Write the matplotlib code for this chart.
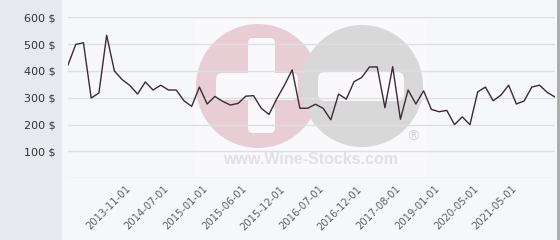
import matplotlib.pyplot as plt
import matplotlib.transforms as mtransforms
from matplotlib.patches import Circle, Rectangle, FancyBboxPatch

# price per point (categorical x axis)
prices = [422, 499, 505, 299, 318, 533, 400, 368, 346, 314,
          359, 329, 347, 329, 329, 289, 268, 340, 277, 305,
          287, 273, 279, 306, 308, 261, 238, 296, 347, 404,
          261, 261, 276, 261, 218, 314, 295, 360, 376, 415,
          415, 263, 416, 220, 329, 277, 326, 257, 248, 253,
          200, 229, 200, 322, 340, 289, 310, 347, 277, 288,
          340, 347, 320, 303]
tick_pos = [7, 12, 17, 22, 27, 32, 37, 42, 47, 52, 57]
tick_labels = ['2013-11-01', '2014-07-01', '2015-01-01', '2015-06-01',
               '2015-12-01', '2016-07-01', '2016-12-01', '2017-08-01',
               '2019-01-01', '2020-05-01', '2021-05-01']
y_ticks = [0, 100, 200, 300, 400, 500, 600]

fig = plt.figure(figsize=(5.6, 2.4), dpi=100, facecolor='#f6f7fa')

# background layer in pixel coordinates (sidebar + watermark)
bg = fig.add_axes([0, 0, 1, 1], zorder=0)
bg.set_xlim(0, 560)
bg.set_ylim(240, 0)
bg.axis('off')
bg.add_patch(Rectangle((0, 0), 62, 240, color='#e6e9ed', lw=0))
bg.add_patch(Rectangle((195, 20), 232, 158, color='#f9f9fb', lw=0))
bg.add_patch(Circle((258, 86), 62, color='#e8ced4', lw=0))
bg.add_patch(FancyBboxPatch((253, 43), 17, 85, boxstyle='round,pad=5',
                            color='#f9f9fb', lw=0))
bg.add_patch(FancyBboxPatch((222, 79), 70, 15, boxstyle='round,pad=6',
                            color='#f9f9fb', lw=0))
bg.add_patch(Circle((362, 86), 61, color='#d8d8d9', lw=0))
bg.add_patch(FancyBboxPatch((325, 79), 72, 15, boxstyle='round,pad=7',
                            color='#f9f9fb', lw=0))
bg.text(311, 160, 'www.Wine-Stocks.com', family='Liberation Sans',
        weight='bold', fontsize=11.5, color='#e1e1e3', ha='center', va='center')
bg.text(413, 137, '\u00ae', fontsize=10, color='#d6d6d8', ha='center', va='center')
bg.plot([557.5, 557.5], [0, 240], color='#a8a8a8', lw=2)

ax = fig.add_axes([68 / 560, 1 - 178.3 / 240, 487 / 560, 161 / 240], zorder=1)
ax.patch.set_alpha(0)
ax.plot(range(len(prices)), prices, color='#3d2a35', lw=1)

ax.set_xlim(0, len(prices) - 1)
ax.set_ylim(0, 600)
ax.set_yticks(y_ticks)
ax.set_yticklabels([''] + [f'{v} $' for v in y_ticks[1:]])
ax.grid(axis='y', color='#dedfe2', lw=1)
ax.tick_params(axis='y', length=0, pad=9, labelsize=8, labelcolor='#333333')

ax.set_xticks(tick_pos)
ax.set_xticklabels(tick_labels, rotation=45, ha='right', rotation_mode='anchor')
ax.tick_params(axis='x', length=0, pad=4, labelsize=7.2, labelcolor='#606060')
offset = mtransforms.ScaledTranslation(3 / 100, 0, fig.dpi_scale_trans)
for lbl in ax.get_xticklabels():
    lbl.set_transform(lbl.get_transform() + offset)

for s in ax.spines.values():
    s.set_visible(False)

fig.savefig('out.png', dpi=100, facecolor=fig.get_facecolor())
